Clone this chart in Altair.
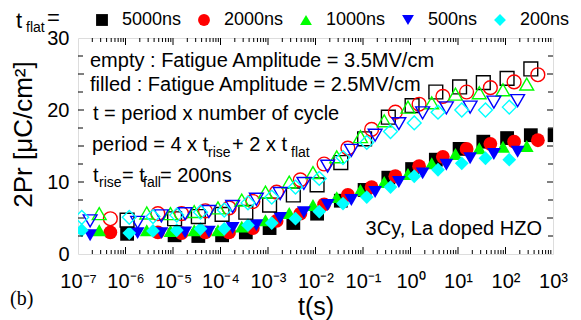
import altair as alt
import pandas as pd

# ---------------- data ----------------
series = ["5000ns", "2000ns", "1000ns", "500ns", "200ns"]
colors = ["#000000", "#ff0000", "#00ff00", "#0000ff", "#00ffff"]
shapes = ["square", "circle", "triangle-up", "triangle-down", "diamond"]
# period = 4 x t_rise + 2 x t_flat  (t_rise = 200 ns), in seconds
period_s = [10.8e-6, 4.8e-6, 2.8e-6, 1.8e-6, 1.2e-6]
# number of cycles at each measurement
cycles = [0.1, 1, 3.16, 10, 31.6, 100, 316, 1e3, 3.16e3, 1e4, 3.16e4,
          1e5, 3.16e5, 1e6, 3.16e6, 1e7, 3.16e7, 1e8]

# empty markers : Fatigue Amplitude = 3.5 MV/cm
pr_empty_5000 = [4.7, 4.9, 5.2, 5.5, 5.8, 6.8, 8.2, 9.6, 12.7, 16.0, 19.0, 20.6, 22.5, 23.2, 23.8, 24.4, 25.7]
pr_empty_2000 = [4.9, 5.6, 5.6, 6.0, 6.4, 7.3, 8.6, 10.3, 12.5, 14.7, 17.3, 19.7, 20.8, 21.9, 22.5, 23.1, 23.9, 24.9]
pr_empty_1000 = [5.6, 5.7, 5.6, 5.9, 6.4, 7.5, 8.6, 10.0, 11.3, 13.5, 16.3, 18.5, 20.4, 21.0, 22.2, 22.4, 22.8, 23.6]
pr_empty_500 = [4.6, 4.4, 5.3, 5.6, 5.9, 6.6, 7.6, 8.4, 9.8, 12.2, 14.4, 16.5, 18.1, 19.6, 20.3, 20.4, 21.1, 21.3]
pr_empty_200 = [5.1, 5.1, 5.2, 5.4, 5.8, 6.1, 7.1, 7.9, 9.3, 10.5, 13.4, 15.5, 17.0, 18.2, 19.7, 20.0, 20.0, 20.4]

# filled markers : Fatigue Amplitude = 2.5 MV/cm
pr_filled_5000 = [2.8, 2.6, 2.5, 2.6, 3.0, 3.6, 4.3, 5.6, 7.4, 8.9, 10.6, 11.8, 13.1, 14.6, 15.6, 16.1, 16.5, 16.5]
pr_filled_2000 = [3.0, 3.0, 2.9, 3.0, 3.0, 3.6, 4.6, 5.6, 6.9, 8.2, 9.3, 10.8, 12.2, 13.5, 14.6, 15.3, 15.6, 15.8]
pr_filled_1000 = [3.3, 3.3, 3.2, 3.3, 3.3, 3.8, 4.7, 5.7, 6.8, 7.9, 8.9, 10.0, 11.1, 12.6, 13.9, 14.7, 14.9, 15.0]
pr_filled_500 = [2.6, 2.9, 2.9, 3.0, 3.1, 3.6, 4.0, 5.0, 5.8, 6.8, 7.5, 8.6, 10.0, 11.2, 12.4, 13.3, 13.9, 14.2]
pr_filled_200 = [3.3, 2.9, 3.2, 3.3, 3.5, 3.5, 4.0, 4.3, 4.9, 5.9, 7.0, 7.9, 9.3, 10.8, 11.7, 12.6, 13.3, 13.1]

x_decades = [1e-7, 1e-6, 1e-5, 1e-4, 1e-3, 1e-2, 1e-1, 1e0, 1e1, 1e2, 1e3]
y_major = [0, 5, 10, 15, 20, 25, 30]
y_minor = [2.5, 7.5, 12.5, 17.5, 22.5, 27.5]

# ---------------- build tables ----------------
empty_vals = [pr_empty_5000, pr_empty_2000, pr_empty_1000, pr_empty_500, pr_empty_200]
filled_vals = [pr_filled_5000, pr_filled_2000, pr_filled_1000, pr_filled_500, pr_filled_200]

rows_e, rows_f = [], []
for i, s in enumerate(series):
    for n, v in zip(cycles, empty_vals[i]):
        rows_e.append({"series": s, "t": period_s[i] * n, "pr": v, "o": i})
    for n, v in zip(cycles, filled_vals[i]):
        rows_f.append({"series": s, "t": period_s[i] * n, "pr": v, "o": i})
df_e = pd.DataFrame(rows_e)
df_f = pd.DataFrame(rows_f)

x_minor = [m * d for d in x_decades[:-1] for m in range(2, 10)]

W, H = 475, 216
FONT = "Liberation Sans"
MSIZE = 190

xscale = alt.Scale(type="log", domain=[1e-7, 1e3], nice=False)
yscale = alt.Scale(domain=[0, 30], nice=False)

sup = ("replace(replace(replace(replace(replace(replace(replace(replace(replace("
       "toString(round(log(datum.value)/LN10)),'-','⁻'),'0','⁰'),'1','¹'),'2','²'),"
       "'3','³'),'4','⁴'),'5','⁵'),'6','⁶'),'7','⁷')")

legend = alt.Legend(orient="none", legendX=15, legendY=-27, direction="horizontal",
                    columns=5, title=None, labelFontSize=18, labelFont=FONT,
                    symbolSize=140, labelOffset=11, columnPadding=13,
                    symbolStrokeWidth=0, padding=0, gridAlign="none")

color = alt.Color("series:N", scale=alt.Scale(domain=series, range=colors), legend=legend)
shape = alt.Shape("series:N", scale=alt.Scale(domain=series, range=shapes), legend=legend)

filled = alt.Chart(df_f).mark_point(filled=True, size=MSIZE, opacity=1, clip=True).encode(
    x=alt.X("t:Q", scale=xscale,
            axis=alt.Axis(values=x_decades, labelExpr="'10' + " + sup, ticks=False, tickSize=0,
                          domain=False, grid=False, labelFontSize=20, labelFont=FONT,
                          labelPadding=17, labelColor="black", title="t(s)", titleFontSize=25,
                          titleFont=FONT, titleFontWeight="normal", titlePadding=3,
                          titleColor="black", labelFlush=False)),
    y=alt.Y("pr:Q", scale=yscale,
            axis=alt.Axis(values=y_major, ticks=False, tickSize=0, domain=False, grid=False,
                          labelFontSize=20, labelFont=FONT, labelPadding=9, labelColor="black",
                          title="2Pr [μC/cm²]", titleFontSize=26, titleFont=FONT,
                          titleFontWeight="normal", titleX=-42, titleY=96, titleColor="black")),
    color=color, shape=shape, order=alt.Order("o:Q"),
)

empty = alt.Chart(df_e).mark_point(filled=False, size=MSIZE, strokeWidth=1.4, opacity=1, clip=True).encode(
    x=alt.X("t:Q", scale=xscale),
    y=alt.Y("pr:Q", scale=yscale),
    color=alt.Color("series:N", scale=alt.Scale(domain=series, range=colors), legend=None),
    shape=alt.Shape("series:N", scale=alt.Scale(domain=series, range=shapes), legend=None),
    order=alt.Order("o:Q"),
)

# ticks pointing inward (bottom/top/left/right)
def xticks(vals, L):
    d = pd.DataFrame({"x": vals})
    b = alt.Chart(d).mark_rule(color="black", strokeWidth=1).encode(
        x=alt.X("x:Q", scale=xscale), y=alt.value(H), y2=alt.value(H - L))
    t = alt.Chart(d).mark_rule(color="black", strokeWidth=1).encode(
        x=alt.X("x:Q", scale=xscale), y=alt.value(0), y2=alt.value(L))
    return [b, t]

def yticks(vals, L):
    d = pd.DataFrame({"y": vals})
    l = alt.Chart(d).mark_rule(color="black", strokeWidth=1).encode(
        y=alt.Y("y:Q", scale=yscale), x=alt.value(0), x2=alt.value(L))
    r = alt.Chart(d).mark_rule(color="black", strokeWidth=1).encode(
        y=alt.Y("y:Q", scale=yscale), x=alt.value(W), x2=alt.value(W - L))
    return [l, r]

tick_layers = xticks(x_decades[1:-1], 7) + xticks(x_minor, 4) + yticks(y_major[1:-1], 6) + yticks(y_minor, 5)

# text annotations: (text, x, y, size, font, align)
notes = [
    ("empty : Fatigue Amplitude = 3.5MV/cm", 12, 29, 20, FONT, "left"),
    ("filled : Fatigue Amplitude = 2.5MV/cm", 12, 53, 20, FONT, "left"),
    ("t = period x number of cycle", 15, 82, 20, FONT, "left"),
    ("period = 4 x t", 14, 113, 20, FONT, "left"),
    ("rise", 130, 119, 14, FONT, "left"),
    ("+ 2 x t", 154, 113, 20, FONT, "left"),
    ("flat", 213, 119, 14, FONT, "left"),
    ("t", 15, 144, 20, FONT, "left"),
    ("rise", 21, 149, 14, FONT, "left"),
    ("= t", 44, 144, 20, FONT, "left"),
    ("fall", 65, 149, 14, FONT, "left"),
    ("= 200ns", 82, 144, 20, FONT, "left"),
    ("3Cy, La doped HZO", 464, 197, 20, FONT, "right"),
    ("(b)", -68, 267, 20, "Liberation Serif", "left"),
    ("t", -62, -10, 22, FONT, "left"),
    ("flat", -52, -6, 14, FONT, "left"),
    ("=", -31, -13, 22, FONT, "left"),
]
text_layers = []
for txt, x, y, sz, f, al in notes:
    text_layers.append(
        alt.Chart(pd.DataFrame({"s": [txt]})).mark_text(
            align=al, baseline="alphabetic", fontSize=sz, font=f, color="black", clip=False
        ).encode(text="s:N", x=alt.value(x), y=alt.value(y))
    )

chart = alt.layer(filled, empty, *tick_layers, *text_layers).properties(
    width=W, height=H,
    padding={"left": 70, "top": 30, "right": 20, "bottom": 66},
    autosize=alt.AutoSizeParams(type="none"),
).configure_view(stroke="black", strokeWidth=1.5).configure(background="white")

chart.save("out.html", embed_options={"renderer": "svg", "actions": False})
